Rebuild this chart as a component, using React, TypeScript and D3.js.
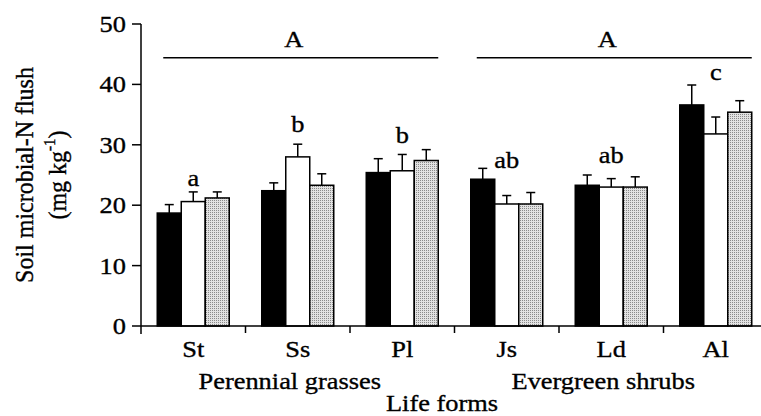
import React, { useRef, useEffect } from 'react';
import * as d3 from 'd3';

// life forms (x categories) and the three treatments drawn as bars
const categories = ['St', 'Ss', 'Pl', 'Js', 'Ld', 'Al'];
const series = ['black', 'white', 'grey'];

// mean values per category, one array per treatment
const blackMeans = [18.7, 22.4, 25.4, 24.3, 23.3, 36.6];
const whiteMeans = [20.6, 28.0, 25.7, 20.2, 23.0, 31.8];
const greyMeans = [21.2, 23.3, 27.4, 20.2, 23.0, 35.4];

// upper error bar ends
const blackErr = [20.1, 23.7, 27.7, 26.1, 25.0, 39.9];
const whiteErr = [22.2, 30.1, 28.4, 21.6, 24.4, 34.6];
const greyErr = [22.2, 25.2, 29.2, 22.1, 24.7, 37.3];

// letters of significance above each life form, and where they sit (data units)
const letters = ['a', 'b', 'b', 'ab', 'ab', 'c'];
const letterY = [23.1, 32.2, 30.3, 26.2, 27.0, 40.7];

// groupings
const groups = [
  { name: 'Perennial grasses', members: ['St', 'Ss', 'Pl'], sig: 'A' },
  { name: 'Evergreen shrubs', members: ['Js', 'Ld', 'Al'], sig: 'A' },
];
const groupLineY = 44.4;
const groupLetterY = 46.2;

const yTicks = [0, 10, 20, 30, 40, 50];

export default function App() {
  const svgRef = useRef<SVGSVGElement | null>(null);

  useEffect(() => {
    const width = 761;
    const height = 416;
    const font = '"Liberation Serif", "Times New Roman", serif';

    const svg = d3.select(svgRef.current);
    svg.selectAll('*').remove();
    svg.attr('width', width).attr('height', height);

    // stippled grey fill
    const defs = svg.append('defs');
    const pat = defs
      .append('pattern')
      .attr('id', 'stipple')
      .attr('width', 2)
      .attr('height', 2)
      .attr('patternUnits', 'userSpaceOnUse');
    pat.append('rect').attr('width', 2).attr('height', 2).attr('fill', '#e2e2e2');
    pat.append('rect').attr('width', 1).attr('height', 1).attr('fill', '#8a8a8a');

    const x = d3.scaleBand<string>().domain(categories).range([141, 768]);
    const inner = d3.scaleBand<string>().domain(series).range([0, 72]);
    const y = d3.scaleLinear().domain([0, 50]).range([326, 24]);

    const means: Record<string, number[]> = { black: blackMeans, white: whiteMeans, grey: greyMeans };
    const errs: Record<string, number[]> = { black: blackErr, white: whiteErr, grey: greyErr };
    const fills: Record<string, string> = { black: '#000', white: '#fff', grey: 'url(#stipple)' };

    const barX = (cat: string, s: string) =>
      (x(cat) as number) + x.bandwidth() / 2 - 36 + (inner(s) as number);

    const g = svg.append('g');

    // the scanned type is a bit wider than it is tall
    const label = (tx: number, ty: number, str: string, anchor = 'middle') =>
      g.append('text')
        .attr('transform', `translate(${tx},${ty}) scale(1.1,1)`)
        .attr('text-anchor', anchor)
        .attr('font-family', font).attr('font-size', 24)
        .attr('stroke', '#000').attr('stroke-width', 0.35)
        .text(str);

    // error bars (upper only)
    series.forEach((s) => {
      categories.forEach((cat, i) => {
        const cx = barX(cat, s) + inner.bandwidth() / 2;
        g.append('line')
          .attr('x1', cx).attr('x2', cx)
          .attr('y1', y(means[s][i])).attr('y2', y(errs[s][i]))
          .attr('stroke', '#000').attr('stroke-width', 1.5);
        g.append('line')
          .attr('x1', cx - 4.5).attr('x2', cx + 4.5)
          .attr('y1', y(errs[s][i])).attr('y2', y(errs[s][i]))
          .attr('stroke', '#000').attr('stroke-width', 1.5);
      });
    });

    // bars
    series.forEach((s) => {
      g.selectAll(null)
        .data(categories)
        .join('rect')
        .attr('x', (cat) => barX(cat, s))
        .attr('y', (cat, i) => y(means[s][i]))
        .attr('width', inner.bandwidth())
        .attr('height', (cat, i) => y(0) - y(means[s][i]))
        .attr('fill', fills[s])
        .attr('stroke', '#000')
        .attr('stroke-width', 1.5);
    });

    // y axis
    g.append('line')
      .attr('x1', 141).attr('x2', 141)
      .attr('y1', y(50)).attr('y2', y(0) + 8)
      .attr('stroke', '#000').attr('stroke-width', 1.5);
    yTicks.forEach((t) => {
      g.append('line')
        .attr('x1', 132).attr('x2', 141)
        .attr('y1', y(t)).attr('y2', y(t))
        .attr('stroke', '#000').attr('stroke-width', 1.5);
      label(126, y(t) + 8, String(t), 'end');
    });

    // x axis
    g.append('line')
      .attr('x1', 141).attr('x2', 768)
      .attr('y1', y(0)).attr('y2', y(0))
      .attr('stroke', '#000').attr('stroke-width', 1.5);
    categories.slice(1).forEach((cat) => {
      const tx = x(cat) as number;
      g.append('line')
        .attr('x1', tx).attr('x2', tx)
        .attr('y1', y(0)).attr('y2', y(0) + 7)
        .attr('stroke', '#000').attr('stroke-width', 1.5);
    });
    categories.forEach((cat, i) => {
      const cx = (x(cat) as number) + x.bandwidth() / 2;
      label(cx, 357, cat);
      label(cx, y(letterY[i]), letters[i]);
    });

    // group labels and significance lines
    groups.forEach((grp) => {
      const first = grp.members[0];
      const last = grp.members[grp.members.length - 1];
      const x0 = barX(first, 'black') + 6;
      const x1 = barX(last, 'grey') + inner.bandwidth();
      const mid = grp.members[1];
      const mx = (x(mid) as number) + x.bandwidth() / 2;
      g.append('line')
        .attr('x1', x0).attr('x2', x1)
        .attr('y1', y(groupLineY)).attr('y2', y(groupLineY))
        .attr('stroke', '#000').attr('stroke-width', 1.5);
      label(mx - 4, y(groupLetterY), grp.sig);
      label(mx - 8, 389, grp.name);
    });

    // axis titles
    label(442, 411, 'Life forms');

    const yt = g.append('text')
      .attr('transform', `translate(33,${(y(0) + y(50)) / 2}) rotate(-90) scale(1,1.08)`)
      .attr('text-anchor', 'middle')
      .attr('font-family', font).attr('font-size', 24)
      .attr('stroke', '#000').attr('stroke-width', 0.35);
    yt.append('tspan').attr('x', 0).attr('y', 0).text('Soil microbial-N flush');
    const l2 = g.append('text')
      .attr('transform', `translate(66,${(y(0) + y(50)) / 2}) rotate(-90) scale(1,1.08)`)
      .attr('text-anchor', 'middle')
      .attr('font-family', font).attr('font-size', 24)
      .attr('stroke', '#000').attr('stroke-width', 0.35);
    l2.append('tspan').text('(mg kg');
    l2.append('tspan').attr('font-size', 15).attr('dy', -10).text('-1');
    l2.append('tspan').attr('dy', 10).text(')');
  }, []);

  return (
    <div style={{ position: 'absolute', left: 0, top: 0, background: '#fff' }}>
      <svg ref={svgRef} style={{ display: 'block' }} />
    </div>
  );
}
